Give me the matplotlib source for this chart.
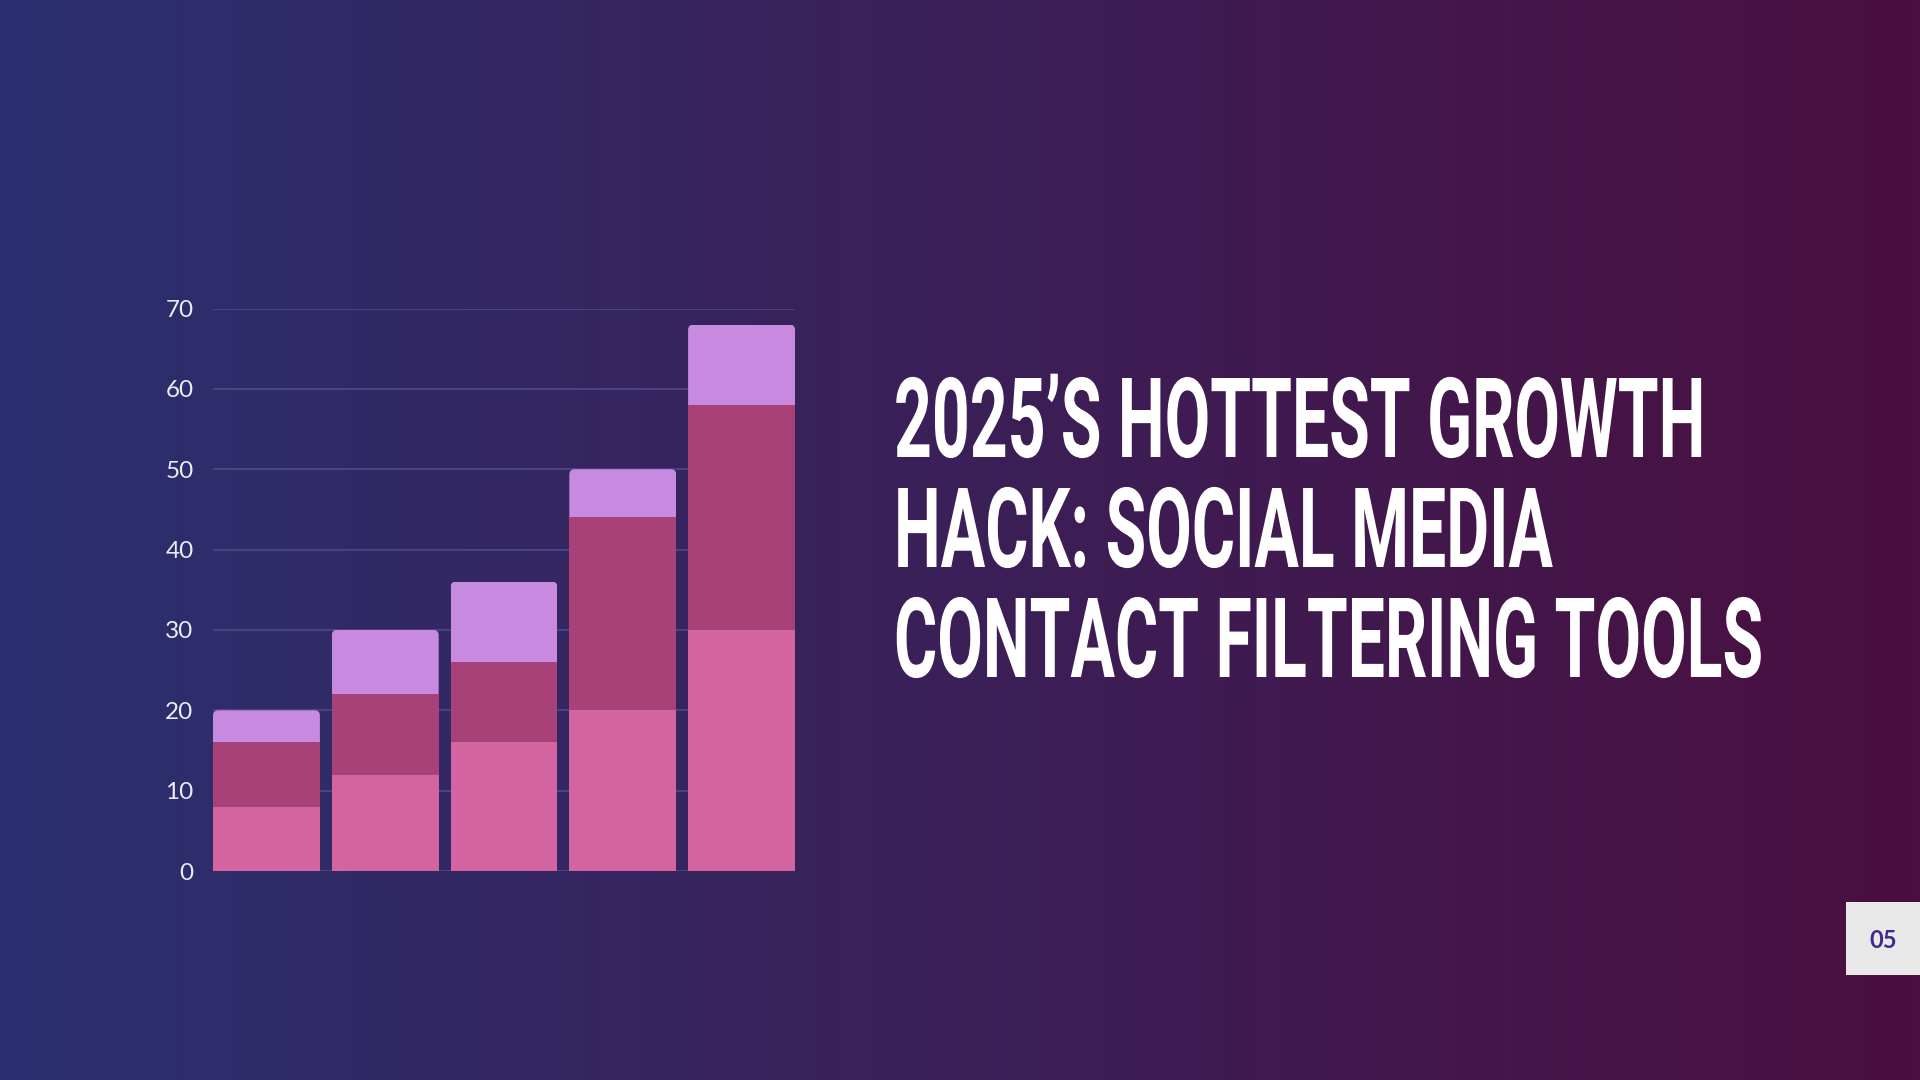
import numpy as np
import matplotlib
matplotlib.use("Agg")
import matplotlib.pyplot as plt
from matplotlib.patches import FancyBboxPatch, Rectangle
from matplotlib.patheffects import AbstractPathEffect
from matplotlib.transforms import Affine2D

# data
categories = ["A", "B", "C", "D", "E"]
base_vals = [8, 12, 16, 20, 30]
mid_vals = [8, 10, 10, 24, 28]
top_vals = [4, 8, 10, 6, 10]
yticks = [0, 10, 20, 30, 40, 50, 60, 70]
title_lines = ["2025\u2019S HOTTEST GROWTH", "HACK: SOCIAL MEDIA", "CONTACT FILTERING TOOLS"]
page_no = "05"

W, H = 1920, 1080
fig = plt.figure(figsize=(W / 100, H / 100), dpi=100)

# background gradient (left navy -> right plum)
bg = fig.add_axes([0, 0, 1, 1])
c0 = np.array([0x2B, 0x30, 0x70]) / 255
c1 = np.array([0x4B, 0x0F, 0x40]) / 255
t = np.linspace(0, 1, 512)
grad = (c0[None, :] * (1 - t[:, None]) + c1[None, :] * t[:, None])[None, :, :]
bg.imshow(grad, aspect="auto", extent=[0, 1, 0, 1])
bg.set_xlim(0, 1)
bg.set_ylim(0, 1)
bg.axis("off")

# chart axes
left, right, bottom, top = 213, 795, 871, 308.5
ax = fig.add_axes([left / W, 1 - bottom / H, (right - left) / W, (bottom - top) / H])
ax.patch.set_alpha(0)
x = np.arange(len(categories))
bw = 0.9
ax.bar(x, base_vals, width=bw, color="#D464A0", zorder=3)
ax.bar(x, mid_vals, width=bw, bottom=base_vals, color="#A84177", zorder=3)
b_under = np.array(base_vals) + np.array(mid_vals)
tops = ax.bar(x, top_vals, width=bw, bottom=b_under, color="#C88AE0", zorder=3)
ax.set_xlim(-bw / 2, len(categories) - 1 + bw / 2)
ax.set_ylim(0, 70)

# round the top corners of the stacks
aspect = (70 / (bottom - top)) / ((len(categories) - 1 + bw) / (right - left))
totals = b_under + np.array(top_vals)
for rect, tot in zip(tops, totals):
    clip = FancyBboxPatch((rect.get_x(), 0), rect.get_width(), tot,
                          boxstyle="round,pad=0,rounding_size=0.045",
                          mutation_aspect=aspect, transform=ax.transData)
    rect.set_clip_path(clip)

ax.set_yticks(yticks)
ax.set_xticks([])
ax.yaxis.grid(True, color="#4E4A86", linewidth=1.2, zorder=0)
ax.set_axisbelow(True)
for s in ax.spines.values():
    s.set_visible(False)
ax.tick_params(axis="y", length=0, pad=14, labelsize=17.5, labelcolor="#ECEAF4")
for lab in ax.get_yticklabels():
    lab.set_fontfamily("Lato")


# stretch title glyphs vertically (about the baseline) to mimic a condensed display face
class Stretch(AbstractPathEffect):
    def __init__(self, sy):
        super().__init__()
        self.sy = sy

    def draw_path(self, renderer, gc, tpath, affine, rgbFace=None):
        renderer.draw_path(gc, tpath, Affine2D().scale(1, self.sy) + affine, rgbFace)


baselines = [457, 567, 677]
title_x = 894
cap_target = 79
texts = []
for line, yb in zip(title_lines, baselines):
    txt = fig.text(title_x / W, 1 - yb / H, line, color="white", fontsize=80,
                   fontfamily="Roboto", fontweight="bold", ha="left", va="baseline")
    texts.append(txt)
renderer = fig.canvas.get_renderer()
natural = texts[2].get_window_extent(renderer).width
fs = 80 * (1763 - title_x) / natural
cap_px = 0.711 * fs * 100 / 72
for txt in texts:
    txt.set_fontsize(fs)
    txt.set_path_effects([Stretch(cap_target / cap_px)])

# page number tag
fig.patches.append(Rectangle((1846 / W, 1 - 975 / H), (W - 1846) / W, 73 / H,
                             transform=fig.transFigure, facecolor="#E8E8E8",
                             edgecolor="none", zorder=5))
fig.text(1883 / W, 1 - 940 / H, page_no, color="#3F2A8C", fontsize=17,
         fontfamily="Lato", fontweight="bold", ha="center", va="center", zorder=6)

fig.savefig("out.png", dpi=100)
